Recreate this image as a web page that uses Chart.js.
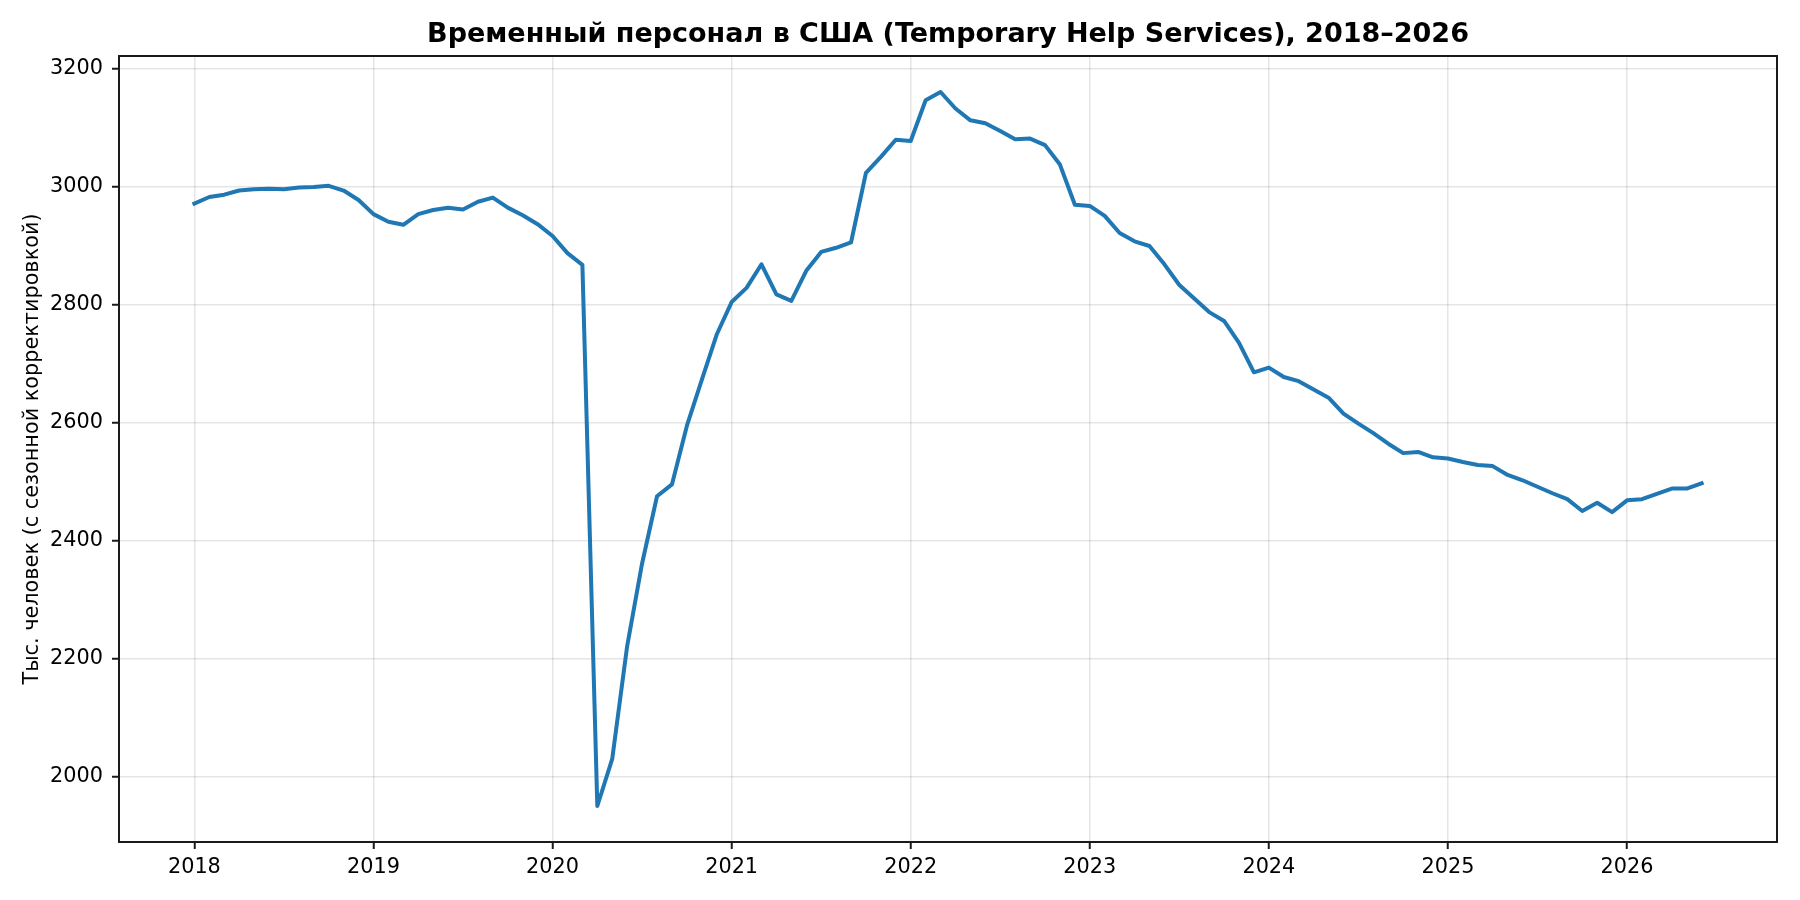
<!DOCTYPE html>
<html>
<head>
<meta charset="utf-8">
<script src="https://cdn.jsdelivr.net/npm/chart.js@4/dist/chart.umd.min.js"></script>
<style>
  html, body { margin: 0; padding: 0; background: #fff; }
  #wrap { width: 1800px; height: 900px; position: relative; }
</style>
</head>
<body>
<div id="wrap"><canvas id="c" width="1800" height="900"></canvas></div>
<script>
const startYear = 2018;
const titleText = 'Временный персонал в США (Temporary Help Services), 2018–2026';
const yAxisLabel = 'Тыс. человек (с сезонной корректировкой)';
const xTickYears = [2018, 2019, 2020, 2021, 2022, 2023, 2024, 2025, 2026];
const yTickValues = [2000, 2200, 2400, 2600, 2800, 3000, 3200];

// Monthly values, Jan 2018 .. Jun 2026 (thousands, seasonally adjusted)
const values2018 = [2972, 2983, 2987, 2994, 2996, 2997, 2996, 2999, 3000, 3002, 2994, 2978];
const values2019 = [2954, 2941, 2936, 2954, 2961, 2965, 2962, 2975, 2982, 2965, 2952, 2937];
const values2020 = [2917, 2888, 2868, 1951, 2031, 2222, 2362, 2476, 2496, 2595, 2673, 2750];
const values2021 = [2805, 2829, 2869, 2818, 2807, 2858, 2890, 2897, 2906, 3024, 3051, 3080];
const values2022 = [3078, 3147, 3161, 3133, 3113, 3108, 3095, 3081, 3082, 3071, 3038, 2970];
const values2023 = [2968, 2951, 2922, 2908, 2900, 2869, 2834, 2811, 2788, 2773, 2736, 2686];
const values2024 = [2694, 2678, 2671, 2657, 2643, 2616, 2599, 2583, 2565, 2549, 2551, 2542];
const values2025 = [2540, 2534, 2529, 2527, 2512, 2503, 2492, 2481, 2471, 2451, 2465, 2449];
const values2026 = [2469, 2471, 2480, 2489, 2489, 2498];

const allValues = [].concat(values2018, values2019, values2020, values2021, values2022,
                            values2023, values2024, values2025, values2026);
const points = allValues.map((v, i) => ({ x: startYear + i / 12, y: v }));

const frameAndTitle = {
  id: 'frameAndTitle',
  afterDraw(chart) {
    const a = chart.chartArea, ctx = chart.ctx;
    ctx.save();
    ctx.strokeStyle = '#1a1a1a';
    ctx.lineWidth = 2;
    ctx.strokeRect(a.left, a.top, a.right - a.left, a.bottom - a.top);
    ctx.fillStyle = '#000';
    ctx.font = 'bold 27px "DejaVu Sans", sans-serif';
    ctx.textAlign = 'center';
    ctx.textBaseline = 'middle';
    ctx.fillText(titleText, (a.left + a.right) / 2, 35);
    ctx.restore();
  }
};

Chart.defaults.font.family = '"DejaVu Sans", sans-serif';
Chart.defaults.color = '#000';

new Chart(document.getElementById('c'), {
  type: 'line',
  data: {
    datasets: [{
      data: points,
      borderColor: '#1f77b4',
      borderWidth: 4,
      borderJoinStyle: 'round',
      borderCapStyle: 'square',
      pointRadius: 0,
      tension: 0,
      fill: false
    }]
  },
  options: {
    responsive: false,
    animation: false,
    devicePixelRatio: 1,
    layout: { padding: { left: 0, right: 23, top: 56, bottom: 0 } },
    plugins: {
      legend: { display: false },
      tooltip: { enabled: false },
      title: { display: false }
    },
    scales: {
      x: {
        type: 'linear',
        min: 2017.579,
        max: 2026.8375,
        afterBuildTicks(scale) { scale.ticks = xTickYears.map(v => ({ value: v })); },
        afterFit(scale) { scale.height = 58; },
        ticks: {
          font: { size: 20.8 },
          color: '#000',
          padding: 6,
          maxRotation: 0,
          autoSkip: false,
          callback: v => String(v)
        },
        grid: {
          color: 'rgba(0,0,0,0.1)',
          lineWidth: 1.5,
          tickLength: 7,
          tickColor: '#1a1a1a',
          tickWidth: 2
        },
        border: { color: '#1a1a1a', width: 2 }
      },
      y: {
        type: 'linear',
        min: 1890,
        max: 3222,
        afterBuildTicks(scale) { scale.ticks = yTickValues.map(v => ({ value: v })); },
        afterFit(scale) { scale.width = 119; },
        ticks: {
          font: { size: 20.8 },
          color: '#000',
          padding: 9,
          callback: v => String(v)
        },
        title: {
          display: true,
          text: yAxisLabel,
          color: '#000',
          font: { size: 20.8 },
          padding: { top: 20, bottom: 0 }
        },
        grid: {
          color: 'rgba(0,0,0,0.1)',
          lineWidth: 1.5,
          tickLength: 7,
          tickColor: '#1a1a1a',
          tickWidth: 2
        },
        border: { color: '#1a1a1a', width: 2 }
      }
    }
  },
  plugins: [frameAndTitle]
});
</script>
</body>
</html>
